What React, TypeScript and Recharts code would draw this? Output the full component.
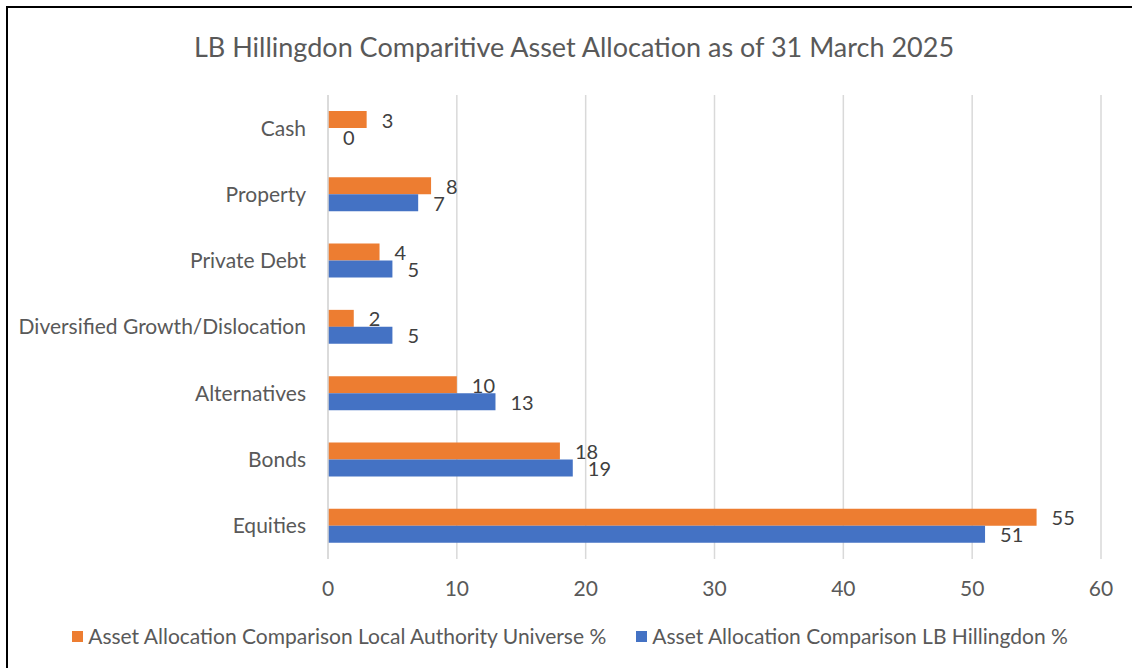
import { Bar, BarChart, CartesianGrid, LabelList, XAxis, YAxis } from 'recharts';

const categories = [
  'Cash',
  'Property',
  'Private Debt',
  'Diversified Growth/Dislocation',
  'Alternatives',
  'Bonds',
  'Equities',
];
const universeValues = [3, 8, 4, 2, 10, 18, 55];
const hillingdonValues = [0, 7, 5, 5, 13, 19, 51];
const xTicks = [0, 10, 20, 30, 40, 50, 60];

const universeName = 'Asset Allocation Comparison Local Authority Universe %';
const hillingdonName = 'Asset Allocation Comparison LB Hillingdon %';
const title = 'LB Hillingdon Comparitive Asset Allocation as of 31 March 2025';

const orange = '#ED7D31';
const blue = '#4472C4';
const textColor = '#595959';
const labelColor = '#404040';
const gridColor = '#D9D9D9';
const font = 'Lato, "Open Sans", sans-serif';

const rows = categories.map((name, i) => ({
  name,
  universe: universeValues[i],
  hillingdon: hillingdonValues[i],
}));

// LabelList content so that a zero value still gets its label
function ValueLabel(props: any) {
  const { x, y, width, height, value } = props;
  if (x == null || y == null || value == null) return null;
  return (
    <text
      x={Number(x) + Number(width || 0) + 15}
      y={Number(y) + Number(height || 0) / 2}
      dominantBaseline="central"
      fontSize={20}
      fill={labelColor}
      fontFamily={font}
    >
      {value}
    </text>
  );
}

function LegendSwatch({ color, label }: { color: string; label: string }) {
  return (
    <span style={{ display: 'inline-flex', alignItems: 'center', gap: 5 }}>
      <span style={{ display: 'inline-block', width: 11, height: 11, background: color }} />
      {label}
    </span>
  );
}

export default function App() {
  return (
    <div
      style={{
        position: 'fixed',
        left: 0,
        top: 0,
        width: 1132,
        height: 668,
        overflow: 'hidden',
        background: '#fff',
        fontFamily: font,
      }}
    >
      {/* chart frame, right and bottom edges fall outside the window */}
      <div
        style={{
          position: 'absolute',
          left: 6,
          top: 6,
          width: 1140,
          height: 700,
          border: '2px solid #000',
        }}
      />
      <div
        style={{
          position: 'absolute',
          left: 0,
          top: 29,
          width: 1148,
          textAlign: 'center',
          fontSize: 27,
          color: textColor,
          lineHeight: '36px',
        }}
      >
        {title}
      </div>
      <div style={{ position: 'absolute', left: 0, top: 0 }}>
        <BarChart
          width={1132}
          height={668}
          data={rows}
          layout="vertical"
          margin={{ top: 95, right: 31, bottom: 59, left: 8 }}
          barSize={17}
          barGap={0}
        >
          <CartesianGrid horizontal={false} stroke={gridColor} strokeWidth={1.5} />
          <XAxis
            type="number"
            domain={[0, 60]}
            ticks={xTicks}
            axisLine={false}
            tickLine={false}
            tickMargin={16}
            height={50}
            tick={{ fontSize: 21, fill: textColor, fontFamily: font }}
          />
          <YAxis
            type="category"
            dataKey="name"
            width={320}
            axisLine={{ stroke: gridColor, strokeWidth: 1.5 }}
            tickLine={false}
            tickMargin={16}
            tick={{ fontSize: 21, fill: textColor, fontFamily: font }}
          />
          <Bar dataKey="universe" name={universeName} fill={orange} isAnimationActive={false}>
            <LabelList dataKey="universe" content={<ValueLabel />} />
          </Bar>
          {/* tiny minPointSize keeps the zero Cash entry so its "0" label is drawn */}
          <Bar
            dataKey="hillingdon"
            name={hillingdonName}
            fill={blue}
            minPointSize={0.01}
            isAnimationActive={false}
          >
            <LabelList dataKey="hillingdon" content={<ValueLabel />} />
          </Bar>
        </BarChart>
      </div>
      <div
        style={{
          position: 'absolute',
          left: 0,
          top: 622,
          width: 1140,
          display: 'flex',
          justifyContent: 'center',
          gap: 30,
          fontSize: 21,
          color: textColor,
          lineHeight: '28px',
        }}
      >
        <LegendSwatch color={orange} label={universeName} />
        <LegendSwatch color={blue} label={hillingdonName} />
      </div>
    </div>
  );
}
